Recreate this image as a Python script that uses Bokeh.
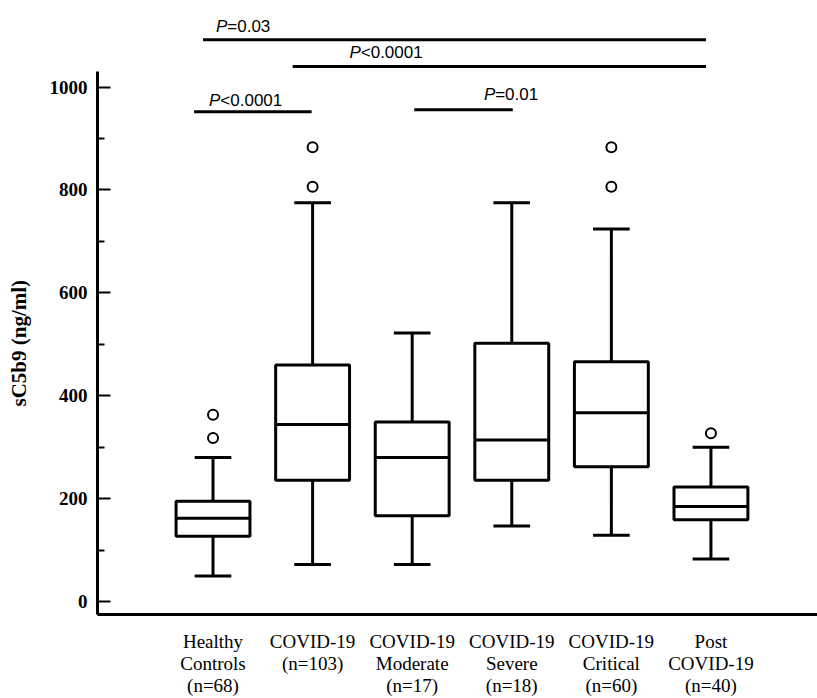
from bokeh.plotting import figure
from bokeh.models import Range1d, FixedTicker, ColumnDataSource, Title
from bokeh.core.properties import value
from bokeh.embed import file_html
from bokeh.resources import INLINE

# ---- data ----
groups = ["Healthy\nControls\n(n=68)", "COVID-19\n(n=103)", "COVID-19\nModerate\n(n=17)",
          "COVID-19\nSevere\n(n=18)", "COVID-19\nCritical\n(n=60)", "Post\nCOVID-19\n(n=40)"]
pos = [1, 2, 3, 4, 5, 6]
lower = [50, 72, 72, 147, 129, 83]
q1 = [127, 236, 167, 236, 262, 159]
median = [162, 344, 280, 314, 367, 185]
q3 = [195, 460, 349, 502, 466, 223]
upper = [280, 775, 522, 775, 724, 300]
out_pos = [1, 1, 2, 2, 5, 5, 6]
out_val = [363, 318, 883, 806, 883, 806, 327]

# significance comparisons
sig_x0 = [0.90, 1.80, 0.81, 3.02]
sig_x1 = [5.95, 5.95, 1.99, 4.01]
sig_y = [1092, 1040, 952, 956]
sig_tx = [1.03, 2.37, 0.96, 3.72]
sig_ty = [1118, 1068, 973, 985]
sig_txt = ["=0.03", "<0.0001", "<0.0001", "=0.01"]

yticks = [0, 200, 400, 600, 800, 1000]
yminor = [100, 300, 500, 700, 900]

BW = 0.742
CW = 0.368

p = figure(width=817, height=698, output_backend="svg", toolbar_location=None,
           x_range=Range1d(-0.16, 7.07), y_range=Range1d(-25, 1148.7),
           min_border_left=96, min_border_right=0, min_border_top=10, min_border_bottom=82)
p.outline_line_color = None
p.grid.visible = False
p.background_fill_color = "white"

src = ColumnDataSource(dict(
    x=pos, lo=lower, q1=q1, med=median, q3=q3, hi=upper,
    xl=[x - BW / 2 for x in pos], xr=[x + BW / 2 for x in pos],
    cl=[x - CW / 2 for x in pos], cr=[x + CW / 2 for x in pos]))

# whiskers
p.segment(x0="x", y0="q3", x1="x", y1="hi", source=src, line_color="black", line_width=3)
p.segment(x0="x", y0="q1", x1="x", y1="lo", source=src, line_color="black", line_width=3)
p.segment(x0="cl", y0="hi", x1="cr", y1="hi", source=src, line_color="black", line_width=3)
p.segment(x0="cl", y0="lo", x1="cr", y1="lo", source=src, line_color="black", line_width=3)
# boxes
p.vbar(x="x", width=BW, bottom="q1", top="q3", source=src, fill_color="white",
       line_color="black", line_width=3)
p.segment(x0="xl", y0="med", x1="xr", y1="med", source=src, line_color="black", line_width=3)
# outliers
p.scatter(x=out_pos, y=out_val, marker="circle", size=10, fill_color="white",
          line_color="black", line_width=2)

# significance bars
p.segment(x0=sig_x0, y0=sig_y, x1=sig_x1, y1=sig_y, line_color="black", line_width=3)
p.text(x=sig_tx, y=sig_ty, text=["P"] * len(sig_tx), text_font=value("Liberation Sans"),
       text_font_style="italic", text_font_size="17px", text_color="black",
       text_baseline="alphabetic", text_align="left")
p.text(x=sig_tx, y=sig_ty, text=sig_txt, text_font=value("Liberation Sans"),
       text_font_size="17px", text_color="black", x_offset=11.3,
       text_baseline="alphabetic", text_align="left")

# x axis
xa = p.xaxis[0]
xa.ticker = FixedTicker(ticks=pos)
xa.major_label_overrides = {k: v for k, v in zip(pos, groups)}
xa.major_tick_in = 0
xa.major_tick_out = 0
xa.minor_tick_in = 0
xa.minor_tick_out = 0
xa.axis_line_width = 3
xa.axis_line_color = "black"
xa.major_label_text_font = "Liberation Serif"
xa.major_label_text_font_size = "19px"
xa.major_label_text_color = "black"
xa.major_label_text_line_height = 1.05
xa.major_label_standoff = 16

# y axis
ya = p.yaxis[0]
ya.ticker = FixedTicker(ticks=yticks, minor_ticks=yminor)
ya.bounds = (-25, 1030)
ya.axis_line_width = 3
ya.axis_line_color = "black"
ya.major_tick_in = 13
ya.major_tick_out = 0
ya.minor_tick_in = 7
ya.minor_tick_out = 0
ya.major_tick_line_width = 2
ya.minor_tick_line_width = 2
ya.major_label_text_font = "Liberation Serif"
ya.major_label_text_font_style = "bold"
ya.major_label_text_font_size = "19px"
ya.major_label_text_color = "black"
ya.major_label_standoff = 10
ya.axis_label = " "
ya.axis_label_text_font_size = "1px"
ya.axis_label_standoff = 8

ytitle = Title(text="sC5b9 (ng/ml)", align="left", offset=208,
               text_font="Liberation Serif", text_font_style="bold",
               text_font_size="21px", text_color="black", standoff=8)
p.add_layout(ytitle, "left")

open("out.html", "w").write(file_html(p, INLINE))
